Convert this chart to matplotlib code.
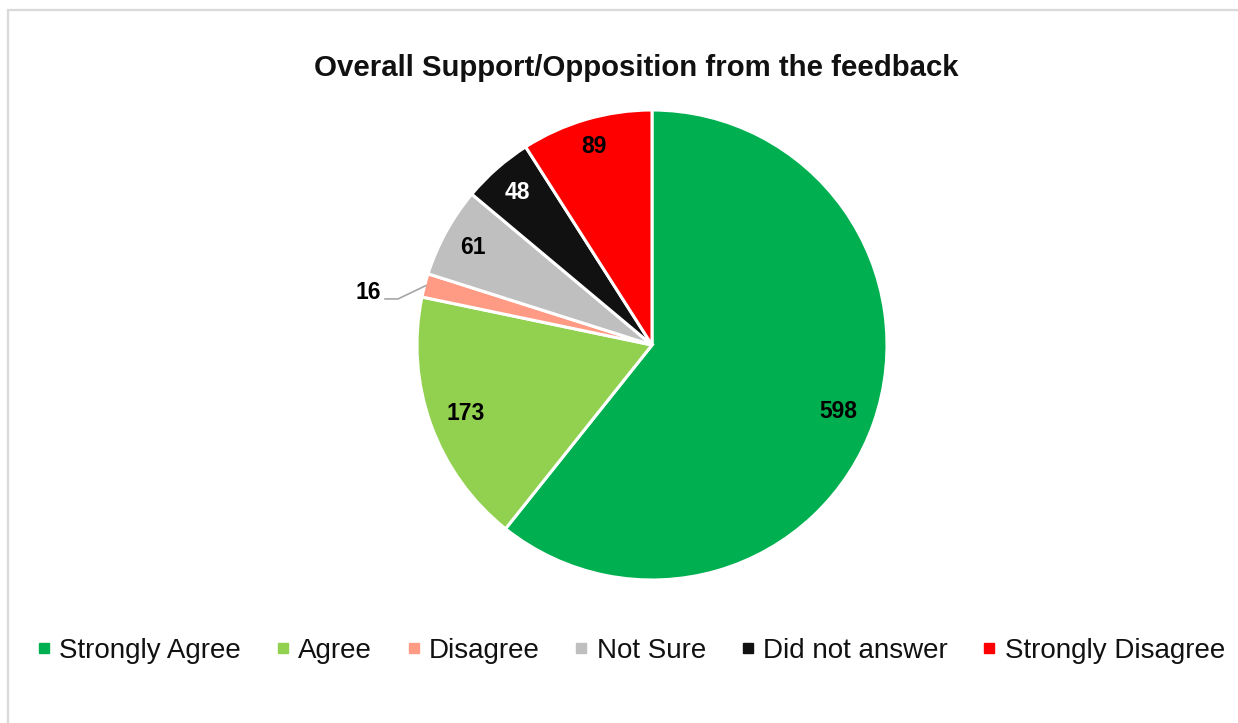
import numpy as np
import matplotlib
matplotlib.use("Agg")
import matplotlib.pyplot as plt
from matplotlib.lines import Line2D
from matplotlib.patches import Rectangle

categories = ["Strongly Agree", "Agree", "Disagree", "Not Sure", "Did not answer", "Strongly Disagree"]
counts = [598, 173, 16, 61, 48, 89]
colors = ["#00B050", "#92D050", "#FF9B85", "#BFBFBF", "#111111", "#FF0000"]
label_colors = ["black", "black", "black", "black", "white", "black"]
label_radius = [0.84, 0.845, None, 0.87, 0.87, 0.885]

plt.rcParams["font.family"] = ["Liberation Sans", "DejaVu Sans"]

W, H = 1238, 723
fig = plt.figure(figsize=(W / 100, H / 100), dpi=100)
fig.patch.set_facecolor("white")

# light grey chart-area border
fig.patches.append(Rectangle((8 / W, -0.1), 1.2, (H - 10) / H + 0.1,
                             transform=fig.transFigure, fill=False,
                             edgecolor="#D9D9D9", linewidth=1.6))

cx, cy, R = 652, 345, 235
ax = fig.add_axes([(cx - R) / W, (H - cy - R) / H, 2 * R / W, 2 * R / H])
wedges, _ = ax.pie(counts, colors=colors, startangle=90, counterclock=False,
                   radius=1.0,
                   wedgeprops=dict(edgecolor="white", linewidth=2.2))
ax.set_xlim(-1, 1)
ax.set_ylim(-1, 1)
ax.set_aspect("equal")
ax.axis("off")

for w, n, tc, lr in zip(wedges, counts, label_colors, label_radius):
    mid = np.deg2rad((w.theta1 + w.theta2) / 2)
    if lr is None:
        # small slice: label outside with leader line
        edge = (np.cos(mid) * 0.995, np.sin(mid) * 0.995)
        elbow = (-1.081, 0.196)
        ax.plot([edge[0], elbow[0], elbow[0] - 0.055], [edge[1], elbow[1], elbow[1]],
                color="#A6A6A6", linewidth=1.2, clip_on=False)
        ax.text(-1.209, 0.222, str(n), ha="center", va="center", fontsize=16.5,
                fontweight="bold", color=tc, clip_on=False)
    else:
        ax.text(np.cos(mid) * lr, np.sin(mid) * lr - 0.005, str(n), ha="center",
                va="center", fontsize=16.5, fontweight="bold", color=tc)

fig.text(636.5 / W, 1 - 68 / H, "Overall Support/Opposition from the feedback",
         ha="center", va="center", fontsize=21.2, fontweight="bold", color="#111111")

handles = [Line2D([], [], linestyle="none", marker="s", markersize=6.5,
                  markerfacecolor=c, markeredgecolor=c) for c in colors]
fig.legend(handles, categories, loc="center", bbox_to_anchor=(631 / W, 1 - 651 / H),
           ncol=6, frameon=False, fontsize=20, handlelength=0.5,
           handletextpad=0.3, columnspacing=1.25, borderaxespad=0,
           labelcolor="#111111")

fig.savefig("out.png", dpi=100, facecolor="white")
